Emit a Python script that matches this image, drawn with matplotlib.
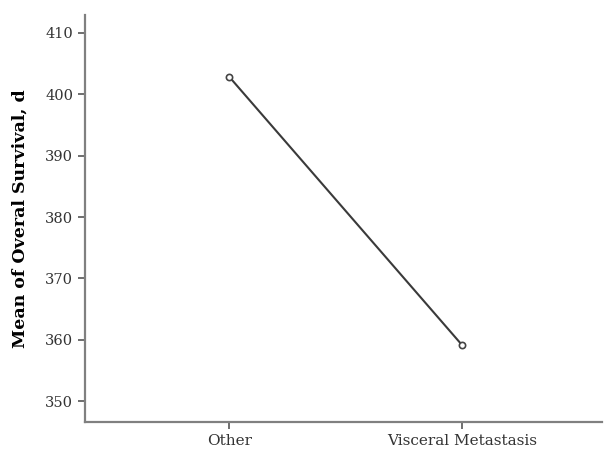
import matplotlib.pyplot as plt

categories = ['Other', 'Visceral Metastasis']
mean_survival = [402.8, 359.1]
y_ticks = [350, 360, 370, 380, 390, 400, 410]

plt.rcParams['font.family'] = ['DejaVu Serif']

fig = plt.figure(figsize=(6.07, 4.53), dpi=100)
ax = fig.add_axes([0.14, 0.068, 0.852, 0.899])

x = list(range(len(categories)))
ax.plot(x, mean_survival, color='#3a3a3a', linewidth=1.5, marker='o',
        markersize=4.5, markerfacecolor='white', markeredgecolor='#444444',
        markeredgewidth=1.2)

ax.set_xlim(-0.62, 1.6)
ax.set_ylim(346.6, 412.9)
ax.set_xticks(x)
ax.set_xticklabels(categories)
ax.set_yticks(y_ticks)

for side in ['top', 'right']:
    ax.spines[side].set_visible(False)
for side in ['left', 'bottom']:
    ax.spines[side].set_color('#808080')
    ax.spines[side].set_linewidth(1.6)

ax.tick_params(axis='y', labelsize=10.5)
ax.tick_params(axis='x', labelsize=11)
ax.tick_params(axis='both', colors='#333333', length=5, width=1.2,
               direction='out')
ax.tick_params(axis='both', color='#555555')

ax.set_ylabel('Mean of Overal Survival, d', fontsize=12.5, fontweight='bold',
              labelpad=12)

fig.savefig('out.png', dpi=100)
